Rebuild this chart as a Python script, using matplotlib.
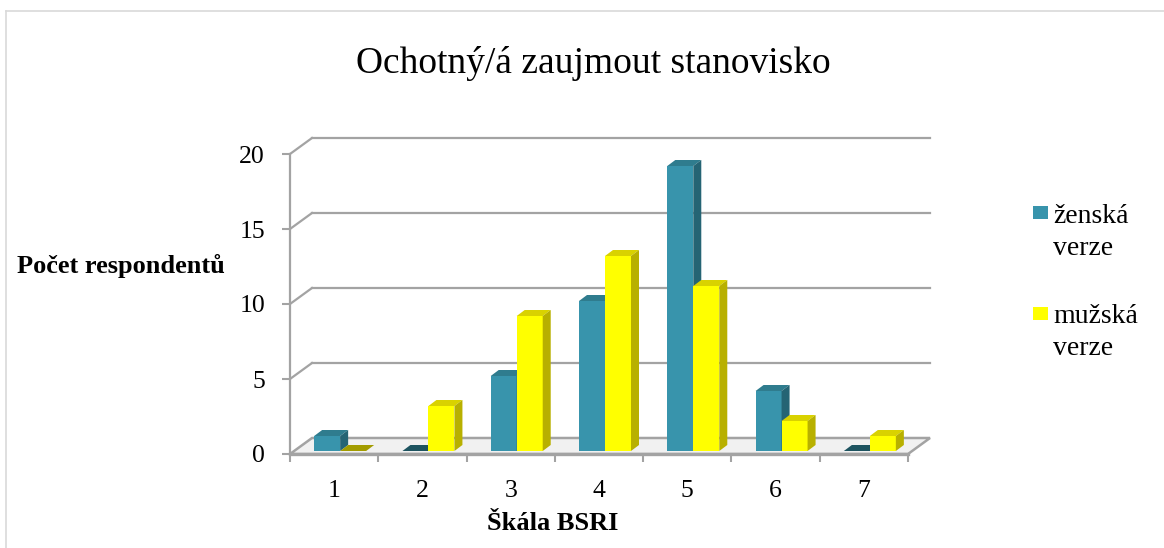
import numpy as np
import matplotlib
matplotlib.use('Agg')
import matplotlib.pyplot as plt
from matplotlib.patches import Polygon, Rectangle
from matplotlib.lines import Line2D

# data
categories = ['1', '2', '3', '4', '5', '6', '7']
zenska = [1, 0, 5, 10, 19, 4, 0]
muzska = [0, 3, 9, 13, 11, 2, 1]
series_names = ['ženská\nverze', 'mužská\nverze']
title = 'Ochotný/á zaujmout stanovisko'
ylabel = 'Počet respondentů'
xlabel = 'Škála BSRI'
yticks = [0, 5, 10, 15, 20]

# colors (front, top, side, flat top for zero)
teal = ('#3894ac', '#2f7c8e', '#256474', '#1e5460')
yellow = ('#ffff00', '#d9d200', '#b8b000', '#a39c00')
gridc = '#a3a3a3'
serif = 'Liberation Serif'

W, H = 1164, 548
fig = plt.figure(figsize=(W / 100, H / 100), dpi=100)

#--layout in pixels
X0, X1, Y0 = 290, 908, 454
unit_px = 15
dpx, dpy = 22, 16
cat_px = (X1 - X0) / len(categories)
DX, DY = dpx / cat_px, dpy / unit_px

ax = fig.add_axes([X0 / W, (H - Y0) / H, (X1 + dpx - X0) / W, (20 * unit_px + dpy) / H])
ax.set_xlim(0.5, len(categories) + 0.5 + DX)
ax.set_ylim(0, 20 + DY)
for s in ax.spines.values():
    s.set_visible(False)
ax.patch.set_alpha(0)

n = len(categories)
xl, xr = 0.5, n + 0.5

#--floor
floor = Polygon([(xl, 0), (xr, 0), (xr + DX, DY), (xl + DX, DY)], closed=True,
                facecolor='#f1f1f1', edgecolor=gridc, lw=1.8, zorder=1, clip_on=False)
ax.add_patch(floor)

#--back wall gridlines + diagonals
for v in yticks[1:]:
    ax.plot([xl + DX, xr + DX], [v + DY, v + DY], color=gridc, lw=1.6, zorder=0.5, clip_on=False)
    ax.plot([xl, xl + DX], [v, v + DY], color=gridc, lw=1.6, zorder=0.5, clip_on=False)
# front axis lines
ax.plot([xl, xl], [0, 20], color=gridc, lw=1.6, zorder=2, clip_on=False)
ax.plot([xl, xr], [0, 0], color=gridc, lw=2.4, zorder=2, clip_on=False)

#--bars
idx = np.arange(1, n + 1)
w = 26 / cat_px
shift = 6 / cat_px
z0 = 3 / unit_px
bdx, bdy = 8 / cat_px, 6 / unit_px

def draw3d(vals, centers, cols, zb):
    bars = ax.bar(centers, vals, width=w, bottom=z0, color=cols[0], lw=0, zorder=zb)
    for b, v in zip(bars, vals):
        x, y, bw, bh = b.get_x(), b.get_y(), b.get_width(), b.get_height()
        top = y + bh
        tcol = cols[1] if v > 0 else cols[3]
        ax.add_patch(Polygon([(x, top), (x + bw, top), (x + bw + bdx, top + bdy), (x + bdx, top + bdy)],
                             closed=True, facecolor=tcol, lw=0, zorder=zb))
        if v > 0:
            ax.add_patch(Polygon([(x + bw, y), (x + bw + bdx, y + bdy), (x + bw + bdx, top + bdy), (x + bw, top)],
                                 closed=True, facecolor=cols[2], lw=0, zorder=zb))
    return bars

draw3d(zenska, idx + shift - w / 2, teal, 3)
draw3d(muzska, idx + shift + w / 2, yellow, 4)

#--ticks
ax.set_yticks(yticks)
ax.set_yticklabels([str(t) for t in yticks], fontsize=18.5, family=serif)
ax.tick_params(axis='y', length=6, width=1.5, color=gridc, pad=12)
ax.set_xticks(idx)
ax.set_xticklabels(categories, fontsize=18.5, family=serif)
ax.set_xticks(np.arange(0.5, n + 1, 1.0), minor=True)
ax.tick_params(axis='x', which='major', length=0, pad=19)
ax.tick_params(axis='x', which='minor', length=6, width=1.5, color=gridc)

#--texts
fig.text(593 / W, 1 - 73 / H, title, fontsize=27, family=serif, ha='center', va='baseline')
fig.text(17 / W, 1 - 273 / H, ylabel, fontsize=19, family=serif, weight='bold', ha='left', va='baseline')
fig.text(553 / W, 1 - 530 / H, xlabel, fontsize=19, family=serif, weight='bold', ha='center', va='baseline')

#--legend
leg_items = [(teal[0], 206, 223), (yellow[0], 307, 323)]
for (c, sq_y, base), name in zip(leg_items, series_names):
    fig.patches.append(Rectangle((1033 / W, 1 - (sq_y + 13) / H), 15 / W, 13 / H,
                                 transform=fig.transFigure, facecolor=c, lw=0))
    for k, line in enumerate(name.split('\n')):
        fig.text(1053 / W, 1 - (base + 32 * k) / H, line, fontsize=20, family=serif,
                 ha='left', va='baseline')

#--outer border
fig.add_artist(Line2D([6 / W, 6 / W], [0, 1 - 11 / H], color='#d9d9d9', lw=1.2, transform=fig.transFigure))
fig.add_artist(Line2D([6 / W, 1], [1 - 11 / H, 1 - 11 / H], color='#d9d9d9', lw=1.2, transform=fig.transFigure))

plt.savefig('out.png', dpi=100)
